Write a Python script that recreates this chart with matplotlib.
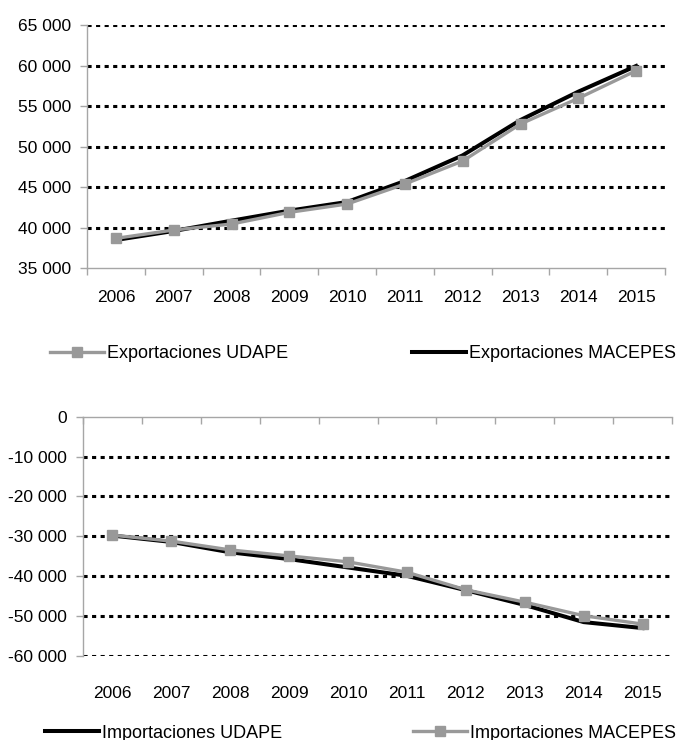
import matplotlib
matplotlib.use("Agg")
import matplotlib.pyplot as plt
from matplotlib.ticker import FuncFormatter, FixedLocator
from matplotlib.lines import Line2D
import numpy as np

plt.rcParams['font.family'] = ['Liberation Sans', 'DejaVu Sans']

years = ['2006', '2007', '2008', '2009', '2010', '2011', '2012', '2013', '2014', '2015']
exp_udape = [38660, 39690, 40430, 41870, 42900, 45370, 48210, 52780, 55950, 59360]
exp_macepes = [38460, 39570, 40840, 42080, 43150, 45740, 48910, 53270, 56770, 59940]
imp_udape = [-29800, -31400, -34000, -35700, -37800, -39900, -43500, -47200, -51500, -53000]
imp_macepes = [-29700, -31200, -33400, -34900, -36400, -39000, -43400, -46500, -49900, -52000]

top_ticks = [35000, 40000, 45000, 50000, 55000, 60000, 65000]
bot_ticks = [-60000, -50000, -40000, -30000, -20000, -10000, 0]

GRAY = '#999999'
SPINE = '#a6a6a6'
FS = 12.5
W, H = 690, 740

fig = plt.figure(figsize=(6.9, 7.4), dpi=100)

def fmt(v, pos):
    s = f"{abs(int(round(v))):,}".replace(',', ' ')
    return ('-' if v < 0 else '') + s

def box(l, r, t, b):
    return [l / W, 1 - b / H, (r - l) / W, (b - t) / H]

x = np.arange(len(years))

def style(ax, yt, grid_vals, axis_at_top):
    ax.set_xlim(-0.5, len(years) - 0.5)
    ax.set_ylim(yt[0], yt[-1])
    for s in ax.spines.values():
        s.set_visible(False)
    ax.spines['left'].set_visible(True)
    ax.spines['left'].set_color(SPINE)
    ax.spines['left'].set_linewidth(1.0)
    side = 'top' if axis_at_top else 'bottom'
    ax.spines[side].set_visible(True)
    ax.spines[side].set_color(SPINE)
    ax.spines[side].set_linewidth(1.0)
    for g in grid_vals:
        ax.axhline(g, color='black', lw=2.2, linestyle=(0, (1.35, 1.45)),
                   dash_capstyle='butt', zorder=1)
    ax.set_yticks(yt)
    ax.yaxis.set_major_formatter(FuncFormatter(fmt))
    ax.tick_params(axis='y', direction='out', length=5, width=1, color=SPINE,
                   labelsize=FS, pad=6.5)
    ax.set_xticks(x)
    ax.set_xticklabels(years)
    ax.xaxis.set_minor_locator(FixedLocator(np.arange(len(years) + 1) - 0.5))
    if axis_at_top:
        ax.tick_params(axis='x', which='major', length=0, labelsize=FS, pad=21.5,
                       top=False, bottom=True, labelbottom=True, labeltop=False)
        ax.tick_params(axis='x', which='minor', direction='in', length=5, width=1,
                       color=SPINE, top=True, bottom=False)
    else:
        ax.tick_params(axis='x', which='major', length=0, labelsize=FS, pad=15.5)
        ax.tick_params(axis='x', which='minor', direction='out', length=5, width=1,
                       color=SPINE)

# Top chart: exports
ax1 = fig.add_axes(box(87, 665, 25, 268))
style(ax1, top_ticks, top_ticks[1:], False)
ax1.plot(x, exp_macepes, color='black', lw=2.9, zorder=3, solid_joinstyle='round')
ax1.plot(x, exp_udape, color=GRAY, lw=2.4, marker='s', markersize=7.2,
         markeredgecolor=GRAY, zorder=4)

# Bottom chart: imports
ax2 = fig.add_axes(box(83, 672, 416.7, 656))
style(ax2, bot_ticks, bot_ticks[:-1], True)
ax2.plot(x, imp_udape, color='black', lw=2.9, zorder=3, solid_joinstyle='round')
ax2.plot(x, imp_macepes, color=GRAY, lw=2.4, marker='s', markersize=7.2,
         markeredgecolor=GRAY, zorder=4)

def leg(handle, label, xp, yp):
    lg = fig.legend([handle], [label], loc='center left',
                    bbox_to_anchor=(xp / W, 1 - yp / H), frameon=False,
                    borderpad=0, borderaxespad=0, handlelength=3.0,
                    handletextpad=0.15, fontsize=13)
    return lg

h_gray = Line2D([], [], color=GRAY, lw=2.4, marker='s', markersize=7.2,
                markeredgecolor=GRAY)
h_black = Line2D([], [], color='black', lw=2.9)

leg(h_gray, 'Exportaciones UDAPE', 50, 354)
leg(h_black, 'Exportaciones MACEPES', 412, 354)
leg(h_black, 'Importaciones UDAPE', 45, 733)
leg(h_gray, 'Importaciones MACEPES', 413, 733)

fig.savefig('out.png', dpi=100)
